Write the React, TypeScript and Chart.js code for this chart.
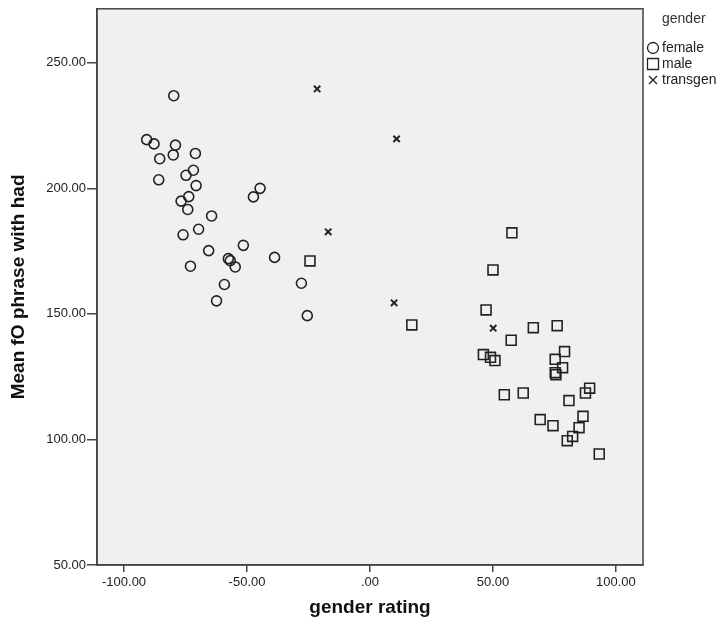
import React, { useEffect, useRef } from "react";
import { Chart, registerables } from "chart.js";

Chart.register(...registerables);

const femaleX = [-79.8, -90.8, -87.8, -79.1, -85.5, -80.0, -71.0, -71.8, -74.8, -85.9, -70.7, -44.7, -47.4, -73.7, -76.8, -74.1, -64.4, -69.7, -76.0, -51.5, -65.6, -38.8, -57.6, -56.8, -54.8, -73.0, -59.2, -62.4, -27.9, -25.5];
const femaleY = [236.9, 219.4, 217.7, 217.2, 211.8, 213.3, 213.9, 207.2, 205.2, 203.4, 201.1, 200.0, 196.6, 196.7, 194.9, 191.6, 189.0, 183.7, 181.5, 177.3, 175.2, 172.5, 172.0, 171.2, 168.7, 169.0, 161.7, 155.2, 162.2, 149.3];

const maleX = [-24.4, 17.0, 57.7, 50.0, 47.2, 66.4, 76.1, 57.4, 46.1, 49.0, 50.8, 79.1, 75.3, 78.3, 75.3, 75.6, 89.3, 87.6, 62.3, 54.6, 80.9, 86.6, 69.2, 74.4, 85.0, 82.4, 80.2, 93.2];
const maleY = [171.1, 145.6, 182.3, 167.5, 151.6, 144.5, 145.3, 139.5, 133.8, 132.7, 131.4, 135.0, 131.9, 128.6, 126.6, 125.8, 120.4, 118.5, 118.5, 117.8, 115.5, 109.2, 107.9, 105.5, 104.7, 101.2, 99.5, 94.2];

const transX = [-21.5, 10.8, -17.0, 9.8, 50.1];
const transY = [239.6, 219.7, 182.7, 154.4, 144.3];

const xTicks = [-100, -50, 0, 50, 100];
const yTicks = [50, 100, 150, 200, 250];

const legendTitle = "gender";
const xTitle = "gender rating";
const yTitle = "Mean fO phrase with had";

const fmt = (v: number) => (v === 0 ? ".00" : v.toFixed(2));
const zip = (xs: number[], ys: number[]) => xs.map((x, i) => ({ x, y: ys[i] }));

const MARK = "#222";

const bgPlugin = {
  id: "bgPlugin",
  beforeDraw(chart: any) {
    const { ctx, chartArea: a } = chart;
    ctx.save();
    ctx.fillStyle = "#f0f0f0";
    ctx.fillRect(a.left, a.top, a.right - a.left, a.bottom - a.top);
    ctx.restore();
  },
  afterDraw(chart: any) {
    const { ctx, chartArea: a } = chart;
    ctx.save();
    ctx.strokeStyle = "#444";
    ctx.lineWidth = 1.5;
    ctx.strokeRect(a.left, a.top, a.right - a.left, a.bottom - a.top);
    // legend
    ctx.fillStyle = "#333";
    ctx.font = '14px "Liberation Sans", Arial, sans-serif';
    ctx.textBaseline = "middle";
    ctx.textAlign = "left";
    ctx.fillText(legendTitle, 662, 19);
    const ys = [48, 64, 80];
    chart.data.datasets.forEach((ds: any, i: number) => {
      const y = ys[i];
      const cx = 653;
      ctx.strokeStyle = "#222";
      ctx.lineWidth = 1.3;
      ctx.beginPath();
      if (ds.pointStyle === "circle") {
        ctx.arc(cx, y, 5.5, 0, Math.PI * 2);
      } else if (ds.pointStyle === "rect") {
        ctx.rect(cx - 5.5, y - 5.5, 11, 11);
      } else {
        ctx.moveTo(cx - 4, y - 4);
        ctx.lineTo(cx + 4, y + 4);
        ctx.moveTo(cx + 4, y - 4);
        ctx.lineTo(cx - 4, y + 4);
      }
      ctx.stroke();
      ctx.fillStyle = "#222";
      ctx.fillText(ds.label, 662, y);
    });
    ctx.restore();
  },
};

export default function App() {
  const ref = useRef<HTMLCanvasElement | null>(null);
  useEffect(() => {
    if (!ref.current) return;
    const tickFont = { family: '"Liberation Sans", Arial, sans-serif', size: 13 };
    const titleFont = { family: '"Liberation Sans", Arial, sans-serif', size: 19, weight: "bold" as const };
    const chart = new Chart(ref.current, {
      type: "scatter",
      data: {
        datasets: [
          {
            label: "female",
            data: zip(femaleX, femaleY),
            pointStyle: "circle",
            pointRadius: 5,
            pointBorderWidth: 1.6,
            borderColor: MARK,
            backgroundColor: "rgba(0,0,0,0)",
          },
          {
            label: "male",
            data: zip(maleX, maleY),
            pointStyle: "rect",
            pointRadius: 7,
            pointBorderWidth: 1.6,
            borderColor: MARK,
            backgroundColor: "rgba(0,0,0,0)",
          },
          {
            label: "transgen",
            data: zip(transX, transY),
            pointStyle: "crossRot",
            pointRadius: 4.5,
            pointBorderWidth: 2,
            borderColor: MARK,
            backgroundColor: MARK,
          },
        ],
      },
      options: {
        responsive: false,
        animation: false,
        devicePixelRatio: 1,
        layout: { padding: { left: 0, right: 82, top: 8, bottom: 0 } },
        plugins: { legend: { display: false }, tooltip: { enabled: false } },
        scales: {
          x: {
            type: "linear",
            min: -111,
            max: 111,
            afterBuildTicks: (s: any) => {
              s.ticks = xTicks.map((v) => ({ value: v }));
            },
            afterFit: (s: any) => {
              s.height = 61;
            },
            grid: { drawOnChartArea: false, drawTicks: true, tickLength: 7, color: "#444", lineWidth: 1.5 },
            border: { display: true, color: "#444", width: 1.5 },
            ticks: { font: tickFont, color: "#222", padding: 3, maxRotation: 0, callback: (v: any) => fmt(Number(v)) },
            title: { display: true, text: xTitle, font: titleFont, color: "#111", padding: { top: 0, bottom: 7 } },
          },
          y: {
            type: "linear",
            min: 50,
            max: 271.5,
            afterBuildTicks: (s: any) => {
              s.ticks = yTicks.map((v) => ({ value: v }));
            },
            afterFit: (s: any) => {
              s.width = 97;
            },
            grid: { drawOnChartArea: false, drawTicks: true, tickLength: 10, color: "#444", lineWidth: 1.5 },
            border: { display: true, color: "#444", width: 1.5 },
            ticks: { font: tickFont, color: "#222", padding: 1, callback: (v: any) => fmt(Number(v)) },
            title: { display: true, text: yTitle, font: titleFont, color: "#111", padding: { top: 7, bottom: 0 } },
          },
        },
      },
      plugins: [bgPlugin],
    });
    return () => chart.destroy();
  }, []);
  return (
    <div style={{ position: "fixed", left: 0, top: 0, width: 725, height: 626, background: "#fff" }}>
      <canvas ref={ref} width={725} height={626} style={{ display: "block" }} />
    </div>
  );
}
